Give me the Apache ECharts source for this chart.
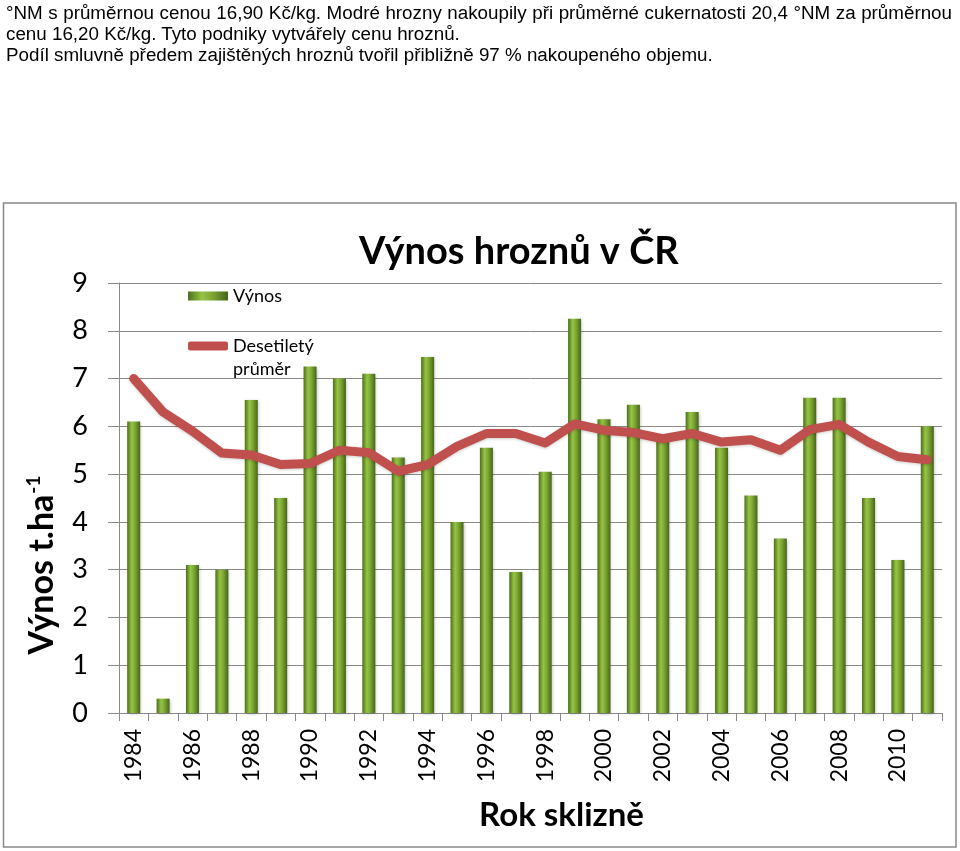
<!DOCTYPE html>
<html>
<head>
<meta charset="utf-8">
<script src="https://cdn.jsdelivr.net/npm/echarts@6/dist/echarts.min.js"></script>
<style>
  html, body { margin: 0; padding: 0; background: #fff; }
  #chart { position: absolute; left: 0; top: 0; width: 960px; height: 851px; }
  #txt { position: absolute; left: 6px; top: 2px; width: 946px; font-family: "Liberation Sans", Arial, sans-serif; font-size: 18.8px; line-height: 21px; color: #000; z-index: 2; }
  #txt .j { text-align: justify; text-align-last: justify; white-space: nowrap; }
  #txt div { white-space: nowrap; }
</style>
</head>
<body>
<div id="chart"></div>
<div id="txt">
  <div class="j">°NM s průměrnou cenou 16,90 Kč/kg. Modré hrozny nakoupily při průměrné cukernatosti 20,4 °NM za průměrnou</div>
  <div>cenu 16,20 Kč/kg. Tyto podniky vytvářely cenu hroznů.</div>
  <div>Podíl smluvně předem zajištěných hroznů tvořil přibližně 97 % nakoupeného objemu.</div>
</div>
<script>
const years = ['1984','1985','1986','1987','1988','1989','1990','1991','1992','1993','1994','1995','1996','1997',
               '1998','1999','2000','2001','2002','2003','2004','2005','2006','2007','2008','2009','2010','2011'];
const vynos = [6.1, 0.3, 3.1, 3.0, 6.55, 4.5, 7.25, 7.0, 7.1, 5.35, 7.45, 4.0, 5.55, 2.95,
               5.05, 8.25, 6.15, 6.45, 5.75, 6.3, 5.55, 4.55, 3.65, 6.6, 6.6, 4.5, 3.2, 6.0];
const prumer = [7.0, 6.3, 5.9, 5.44, 5.4, 5.2, 5.22, 5.5, 5.45, 5.06, 5.2, 5.58, 5.85, 5.85,
                5.65, 6.05, 5.92, 5.87, 5.74, 5.85, 5.67, 5.72, 5.5, 5.93, 6.04, 5.67, 5.37, 5.3];
const yTicks = [0, 1, 2, 3, 4, 5, 6, 7, 8, 9];

const chart = echarts.init(document.getElementById('chart'), null, { renderer: 'canvas' });
const FONT = 'Lato, "Open Sans", sans-serif';
const barGrad = new echarts.graphic.LinearGradient(0, 0, 1, 0, [
  { offset: 0, color: '#4e6e18' },
  { offset: 0.35, color: '#96c445' },
  { offset: 0.6, color: '#7ea835' },
  { offset: 1, color: '#47651b' }
]);
const gridColor = '#8a8a8a';

chart.setOption({
  animation: false,
  backgroundColor: '#fff',
  textStyle: { fontFamily: FONT },
  title: {
    text: 'Výnos hroznů v ČR',
    left: 359, top: 233,
    padding: 0,
    textStyle: { fontFamily: FONT, fontSize: 38, fontWeight: 'bold', color: '#000' }
  },
  legend: [
    {
      data: [{ name: 'Výnos', icon: 'rect' }],
      left: 188, top: 287, padding: 0,
      itemWidth: 40, itemHeight: 9, itemGap: 5,
      selectedMode: false,
      textStyle: { fontFamily: FONT, fontSize: 18, color: '#000' }
    },
    {
      data: [{ name: 'Desetiletý průměr', icon: 'roundRect' }],
      left: 188, top: 337, padding: 0,
      itemWidth: 40, itemHeight: 9, itemGap: 5,
      selectedMode: false,
      formatter: function () { return 'Desetiletý'; },
      textStyle: { fontFamily: FONT, fontSize: 18, color: '#000' }
    }
  ],
  grid: { left: 119, right: 18, top: 283, bottom: 138, containLabel: false },
  xAxis: {
    type: 'category',
    data: years,
    boundaryGap: true,
    name: 'Rok sklizně',
    nameLocation: 'middle',
    nameGap: 86,
    nameTextStyle: { fontFamily: FONT, fontSize: 33, fontWeight: 'bold', color: '#000', padding: [0, 0, 0, 62] },
    axisLine: { show: true, lineStyle: { color: gridColor, width: 1 } },
    axisTick: { show: true, interval: 0, length: 8, lineStyle: { color: gridColor } },
    axisLabel: { interval: 1, rotate: 90, margin: 16, fontFamily: FONT, fontSize: 23, color: '#000' },
    splitLine: { show: false }
  },
  yAxis: {
    type: 'value',
    min: 0, max: 9, interval: 1,
    name: '{a|Výnos t.ha}{s|-1}',
    nameLocation: 'middle',
    nameGap: 58,
    nameRotate: 90,
    nameTextStyle: {
      fontFamily: FONT, fontSize: 34, fontWeight: 'bold', color: '#000', padding: [0, 134, 0, 0],
      rich: {
        a: { fontFamily: FONT, fontSize: 34, fontWeight: 'bold', color: '#000' },
        s: { fontFamily: FONT, fontSize: 19, fontWeight: 'bold', color: '#000', padding: [0, 0, 18, 1] }
      }
    },
    axisLine: { show: true, lineStyle: { color: gridColor, width: 1 } },
    axisTick: { show: true, length: 11, lineStyle: { color: gridColor } },
    axisLabel: { margin: 31, fontFamily: FONT, fontSize: 27, color: '#000',
                 formatter: function (v) { return yTicks.indexOf(v) >= 0 ? String(v) : ''; } },
    splitLine: { show: true, lineStyle: { color: gridColor, width: 1 } }
  },
  graphic: [
    {
      type: 'rect', silent: true, z: -1,
      shape: { x: 3.5, y: 203, width: 952.5, height: 644 },
      style: { fill: 'none', stroke: '#888', lineWidth: 1.5 }
    },
    {
      type: 'text', silent: true,
      left: 233, top: 360,
      style: { text: 'průměr', fontFamily: FONT, fontSize: 18, fill: '#000' }
    }
  ],
  series: [
    {
      name: 'Výnos',
      type: 'bar',
      data: vynos,
      barWidth: 13,
      itemStyle: { color: barGrad, shadowColor: 'rgba(0,0,0,0.25)', shadowBlur: 3, shadowOffsetX: 1, shadowOffsetY: 1 },
      z: 2
    },
    {
      name: 'Desetiletý průměr',
      type: 'line',
      data: prumer,
      showSymbol: false,
      symbol: 'none',
      itemStyle: { color: '#c0504d' },
      lineStyle: { color: '#c0504d', width: 9, cap: 'round', join: 'round',
                   shadowColor: 'rgba(0,0,0,0.2)', shadowBlur: 3, shadowOffsetY: 1 },
      z: 3
    }
  ]
});
</script>
</body>
</html>
